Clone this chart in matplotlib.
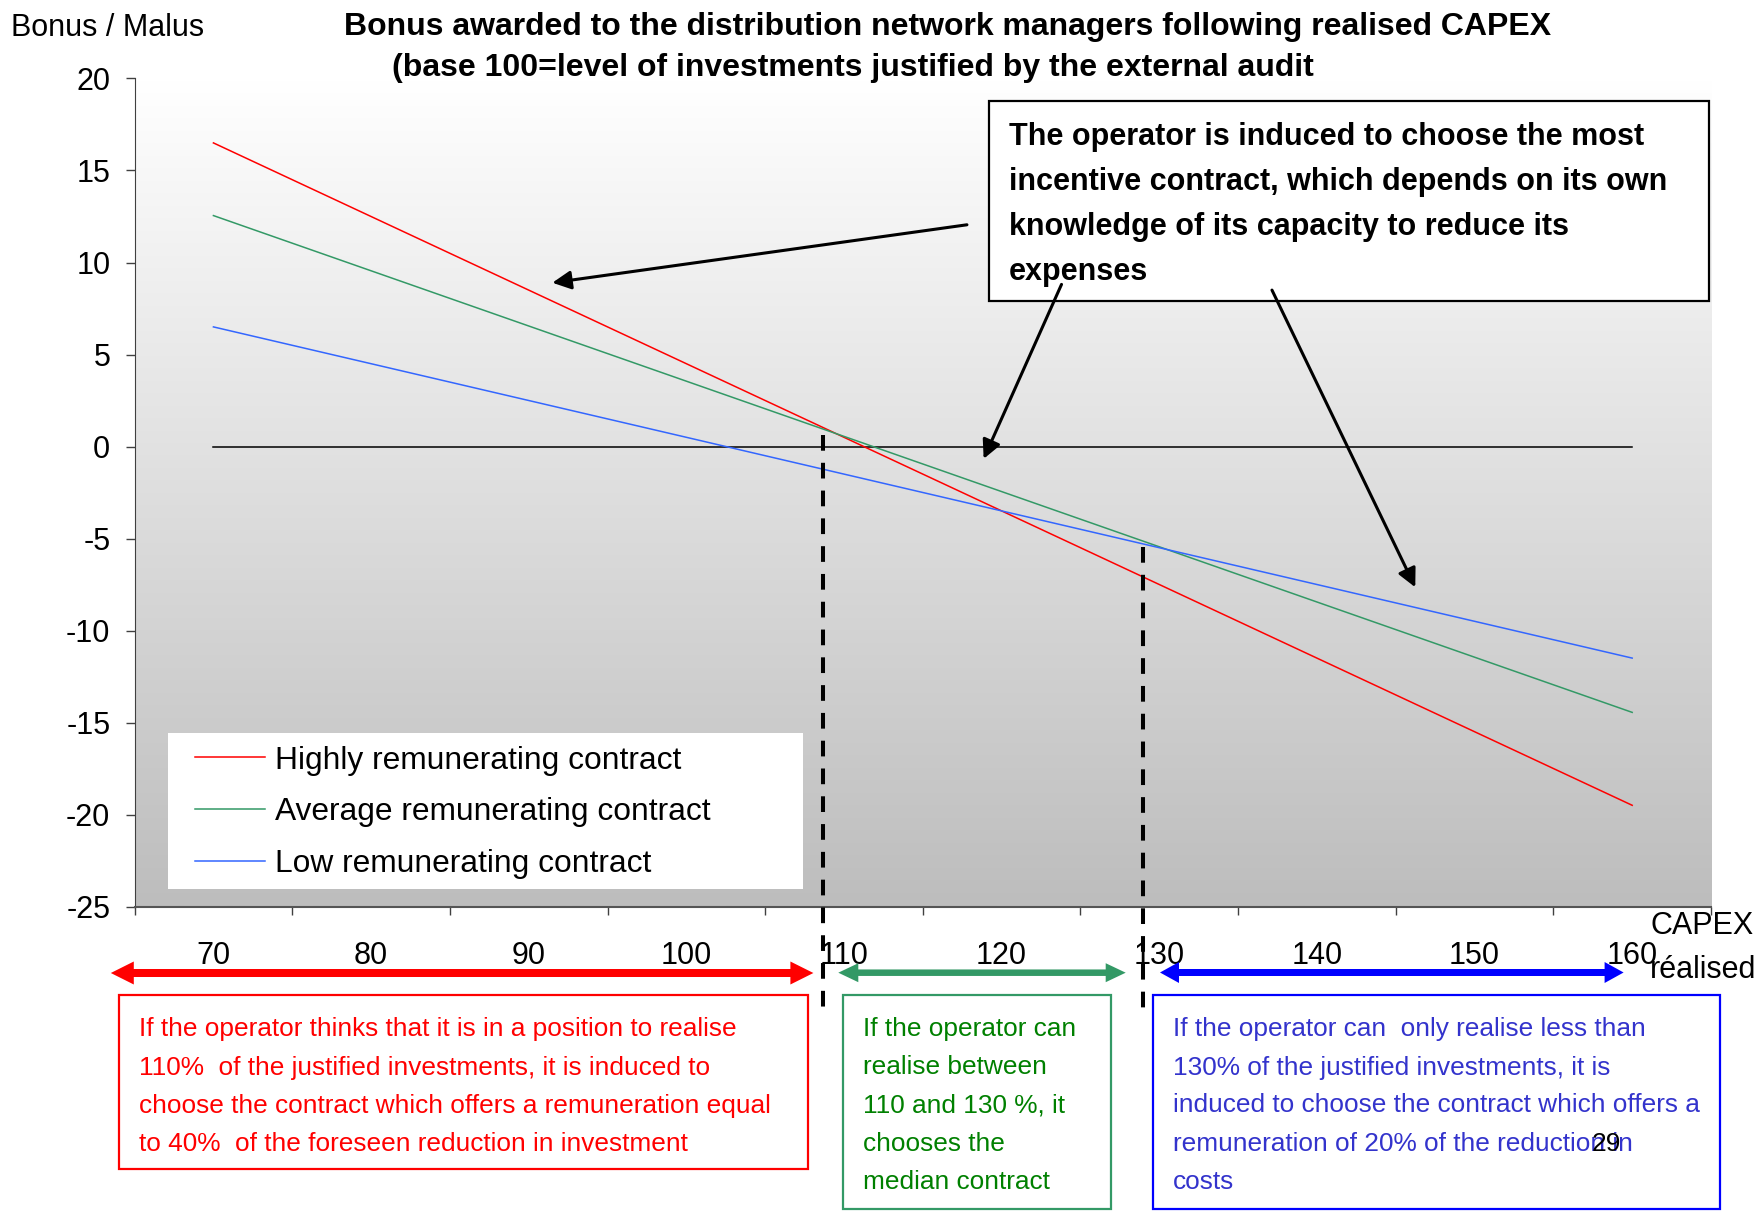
import matplotlib
matplotlib.use('Agg')
import matplotlib.pyplot as plt
import numpy as np
from matplotlib.transforms import Affine2D
from matplotlib.patches import Rectangle, Polygon

plt.rcParams['font.family'] = ['Liberation Sans', 'DejaVu Sans']

# ---------------- data ----------------
capex = [70, 80, 90, 100, 110, 120, 130, 140, 150, 160]
highly = [16.5, 12.5, 8.5, 4.5, 0.5, -3.5, -7.5, -11.5, -15.5, -19.5]
average = [12.55, 9.55, 6.55, 3.55, 0.55, -2.45, -5.45, -8.45, -11.45, -14.45]
low = [6.5, 4.5, 2.5, 0.5, -1.5, -3.5, -5.5, -7.5, -9.5, -11.5]
zero = [0, 0, 0, 0, 0, 0, 0, 0, 0, 0]
series_labels = ["Highly remunerating contract", "Average remunerating contract",
                 "Low remunerating contract"]
yticks = [-25, -20, -15, -10, -5, 0, 5, 10, 15, 20]
thresholds_x = [108.7, 129.0]
thresholds_top = [0.65, -5.44]

W, H = 1759, 1211
fig = plt.figure(figsize=(W / 100, H / 100), dpi=100)
pix = Affine2D().scale(1 / W, -1 / H).translate(0, 1) + fig.transFigure

ax_l, ax_r, ax_t, ax_b = 134.6, 1711.0, 78.5, 906.5
ax = fig.add_axes([ax_l / W, 1 - ax_b / H, (ax_r - ax_l) / W, (ax_b - ax_t) / H])

# gradient background
n = 256
vals = np.linspace(255, 189, n) / 255.0
grad = np.repeat(vals[:, None, None], 3, axis=2)
ax.imshow(grad, extent=[0, 1, 0, 1], transform=ax.transAxes, aspect='auto',
          zorder=0, interpolation='bilinear')

ax.plot(capex, zero, color='black', lw=1.1, zorder=2)
l1, = ax.plot(capex, highly, color='#ff0000', lw=1.1, zorder=3, label=series_labels[0])
l2, = ax.plot(capex, average, color='#339966', lw=1.1, zorder=3, label=series_labels[1])
l3, = ax.plot(capex, low, color='#3366ff', lw=1.1, zorder=3, label=series_labels[2])

ax.set_xlim(65, 165)
ax.set_ylim(-25, 20)
ax.set_yticks(yticks)
ax.set_yticklabels([str(v) for v in yticks])
ax.set_xticks(capex)
ax.set_xticklabels([str(v) for v in capex])
ax.set_xticks([65 + 10 * i for i in range(11)], minor=True)
ax.tick_params(axis='y', direction='out', length=6.5, width=1, color='#404040',
               labelsize=22, pad=11)
ax.tick_params(axis='x', which='major', length=0, labelsize=22, pad=24.5)
ax.tick_params(axis='x', which='minor', direction='out', length=6, width=1, color='#404040')
for s in ['top', 'right']:
    ax.spines[s].set_visible(False)
ax.spines['left'].set_color('#404040')
ax.spines['bottom'].set_color('#555555')
ax.spines['bottom'].set_linewidth(1.5)

# dashed threshold lines
for xv, yt in zip(thresholds_x, thresholds_top):
    ax.plot([xv, xv], [yt, -30.7], color='black', lw=2.9, ls=(0, (3.9, 3.0)),
            clip_on=False, zorder=6, dash_capstyle='butt')

# legend
ax.add_patch(Rectangle((168, 732.5), 803 - 168, 888.5 - 732.5, transform=pix,
                       facecolor='white', edgecolor='none', zorder=4, clip_on=False))
leg = ax.legend(handles=[l1, l2, l3], loc='upper left',
                bbox_to_anchor=(195 / W, 1 - 745.5 / H), bbox_transform=fig.transFigure,
                frameon=False, borderpad=0, borderaxespad=0, handlelength=2.2,
                handletextpad=0.3, labelspacing=0.69, fontsize=22.9)
leg.set_zorder(5)

# annotation arrows
arrow_kw = dict(arrowstyle='-|>', color='black', lw=2.2, mutation_scale=28,
                shrinkA=0, shrinkB=0)
ax.annotate('', xy=(91.5, 8.9), xytext=(117.8, 12.05), arrowprops=arrow_kw,
            annotation_clip=False, zorder=7)
ax.annotate('', xy=(118.86, -0.67), xytext=(123.8, 8.81), arrowprops=arrow_kw,
            annotation_clip=False, zorder=7)
ax.annotate('', xy=(146.24, -7.65), xytext=(137.15, 8.5), arrowprops=arrow_kw,
            annotation_clip=False, zorder=7)

# top-right explanation box
ax.add_patch(Rectangle((989, 101), 1709 - 989, 300.6 - 101, transform=pix,
                       facecolor='white', edgecolor='black', lw=1.6, zorder=6.5,
                       clip_on=False))
box_lines = ["The operator is induced to choose the most",
             "incentive contract, which depends on its own",
             "knowledge of its capacity to reduce its",
             "expenses"]
for i, t in enumerate(box_lines):
    fig.text(1009, 145 + 45 * i, t, transform=pix, fontsize=22, fontweight='bold',
             va='baseline', ha='left', zorder=8)

# titles
fig.text(11, 36, "Bonus / Malus", transform=pix, fontsize=22, va='baseline', ha='left')
fig.text(344, 35, "Bonus awarded to the distribution network managers following realised CAPEX",
         transform=pix, fontsize=23, fontweight='bold', va='baseline', ha='left')
fig.text(392, 76, "(base 100=level of investments justified by the external audit",
         transform=pix, fontsize=23, fontweight='bold', va='baseline', ha='left')
fig.text(1754, 933.5, "CAPEX", transform=pix, fontsize=22, va='baseline', ha='right')
fig.text(1756, 977.5, "réalised", transform=pix, fontsize=22, va='baseline', ha='right')


# double arrows
def double_arrow(x0, x1, y, shaft, head_h, head_l, color):
    s, h = shaft / 2, head_h / 2
    pts = [(x0, y), (x0 + head_l, y - h), (x0 + head_l, y - s), (x1 - head_l, y - s),
           (x1 - head_l, y - h), (x1, y), (x1 - head_l, y + h), (x1 - head_l, y + s),
           (x0 + head_l, y + s), (x0 + head_l, y + h)]
    fig.add_artist(Polygon(pts, closed=True, transform=pix, facecolor=color,
                           edgecolor='none'))


double_arrow(110.8, 813.4, 973, 8, 23, 23, '#ff0000')
double_arrow(838.3, 1125.7, 972.7, 6.5, 19, 20, '#339966')
double_arrow(1160, 1623.6, 972.5, 7, 21, 19, '#0000ff')

# bottom boxes
boxes = [((119.4, 995, 808, 1169), '#ff0000'),
         ((843, 995, 1111, 1208.5), '#339966'),
         ((1153.5, 995, 1720, 1208.5), '#0000ff')]
for (x0, y0, x1, y1), c in boxes:
    fig.add_artist(Rectangle((x0, y0), x1 - x0, y1 - y0, transform=pix,
                             facecolor='white', edgecolor=c, lw=1.6))

red_lines = ["If the operator thinks that it is in a position to realise",
             "110%  of the justified investments, it is induced to",
             "choose the contract which offers a remuneration equal",
             "to 40%  of the foreseen reduction in investment"]
green_lines = ["If the operator can", "realise between", "110 and 130 %, it",
               "chooses the", "median contract"]
blue_lines = ["If the operator can  only realise less than",
              "130% of the justified investments, it is",
              "induced to choose the contract which offers a",
              "remuneration of 20% of the reduction in",
              "costs"]
base_y = [1036, 1074.5, 1112.5, 1151, 1189]
for lines, x, c in [(red_lines, 139.5, '#ff0000'), (green_lines, 863, '#008000'),
                    (blue_lines, 1173, '#3333cc')]:
    for i, t in enumerate(lines):
        fig.text(x, base_y[i], t, transform=pix, fontsize=18.9, color=c,
                 va='baseline', ha='left')
fig.text(1592, 1151, "29", transform=pix, fontsize=18.9, color='black',
         va='baseline', ha='left')

fig.savefig('out.png', dpi=100)
